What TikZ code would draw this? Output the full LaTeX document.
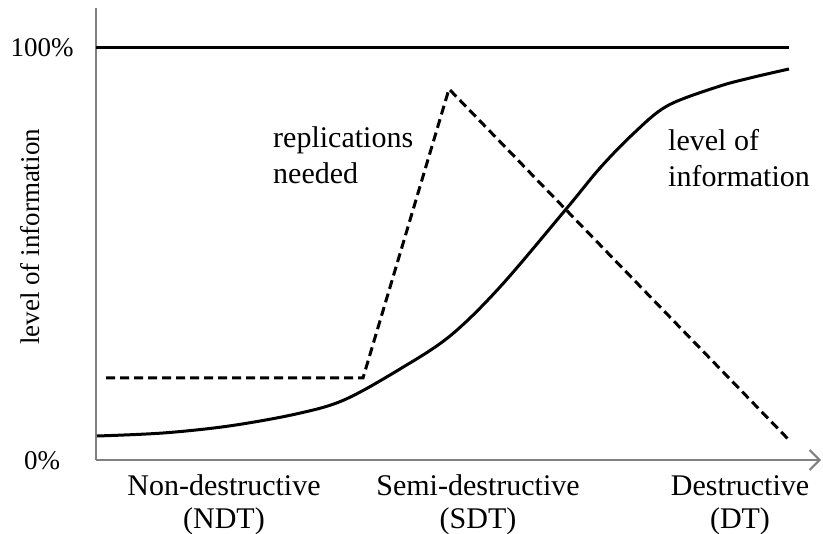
\documentclass[tikz,border=0pt]{standalone}
\usepackage{fontspec}
\setmainfont{Liberation Serif}
\usetikzlibrary{arrows.meta}
\begin{document}
\begin{tikzpicture}[x=1pt,y=-1pt,
  axis/.style={draw=black!50,line width=2pt},
  curve/.style={line width=3pt,line join=round},
  dcurve/.style={line width=3pt,dash pattern=on 9pt off 5pt},
  lbl/.style={inner sep=0pt,font=\fontsize{27}{33}\selectfont},
  tlbl/.style={inner sep=0pt,font=\fontsize{30}{33}\selectfont},
  blbl/.style={tlbl,align=center}]
\useasboundingbox (0,0) rectangle (823,534);
\coordinate (ytop) at (96,8);
\coordinate (orig) at (96,460);
\coordinate (xend) at (821,460);
\draw[axis] (ytop) -- (orig);
\draw[axis,-{Straight Barb[length=10pt,width=20pt,line width=2pt]}] (orig) -- (xend);
\coordinate (hs) at (96,48);
\coordinate (he) at (789,48);
\draw[curve] (hs) -- (he);
\coordinate (d1) at (106,378);
\coordinate (d2) at (363,378);
\coordinate (d3) at (449,89);
\coordinate (d4) at (789,440);
\draw[dcurve] (d1) -- (d2) -- (d3) -- (d4);
\draw[curve] plot[smooth,tension=0.55] coordinates {(97,436) (163,433) (229,426) (296,414) (344,400) (400,369) (450,336) (500,287) (567,208) (600,168) (633,134) (667,106) (717,87) (750,78) (789,69)};
\node[lbl] (p100) at (42,48) {100\%};
\node[lbl] (p0) at (42,461) {0\%};
\node[lbl,rotate=90] (ylab) at (30,237) {level of information};
\node[tlbl,anchor=west] (rep1) at (273,140) {replications};
\node[tlbl,anchor=west] (rep2) at (273,173) {needed};
\node[tlbl,anchor=west] (loi1) at (668,140) {level of};
\node[tlbl,anchor=west] (loi2) at (668,176) {information};
\node[blbl] (ndt) at (224,505) {Non-destructive\\(NDT)};
\node[blbl] (sdt) at (478,505) {Semi-destructive\\(SDT)};
\node[blbl] (dt) at (740,505) {Destructive\\(DT)};
\end{tikzpicture}
\end{document}
